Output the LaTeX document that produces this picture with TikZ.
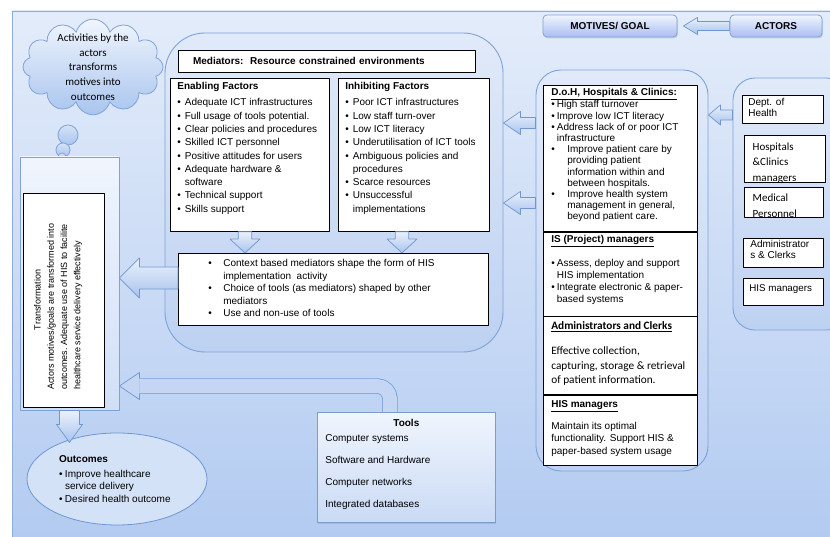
\documentclass[tikz,border=0pt]{standalone}
\usepackage{fontspec}
\setmainfont{Liberation Sans}
\newfontfamily\calib{Carlito}
\usetikzlibrary{positioning, calc, shapes.geometric, shapes.symbols, shadows}

\definecolor{bgtop}{HTML}{E3ECFA}
\definecolor{bgbot}{HTML}{B3CBF1}
\definecolor{pline}{HTML}{7FA3D8}
\definecolor{ptop}{HTML}{E1EAF9}
\definecolor{pbot}{HTML}{BDD1F2}
\definecolor{atop}{HTML}{EAF1FC}
\definecolor{abot}{HTML}{A9C3EC}
\definecolor{aline}{HTML}{6E97D2}
\definecolor{amid}{HTML}{C4D6F3}
\definecolor{ofill}{HTML}{D4E2F7}
\definecolor{ctop}{HTML}{F0F5FD}
\definecolor{cbot}{HTML}{A9C5EE}

\newcommand\topbox[3]{\parbox[t][#1][t]{#2}{\raggedright #3}}
\newcommand\bul[2][7.5pt]{\par\hangindent=#1\hangafter=1\noindent\makebox[#1][l]{\textbullet}{\let\\\newline #2}}
\newcommand\blockarrow[6][]{%
  \coordinate (ba-h) at ($(#3)!#6pt!(#2)$);
  \draw[fatarrow,#1] ($(#2)!#4pt!90:(#3)$) -- ($(ba-h)!#4pt!90:(#3)$)
    -- ($(ba-h)!#5pt!90:(#3)$) -- (#3) -- ($(ba-h)!#5pt!-90:(#3)$)
    -- ($(ba-h)!#4pt!-90:(#3)$) -- ($(#2)!#4pt!-90:(#3)$) -- cycle;}

\tikzset{
  whitebox/.style={draw, fill=white, line width=0.7pt, inner ysep=4pt, inner xsep=7pt},
  cliptext/.style={draw=none, fill=none, minimum width=0pt, minimum height=0pt, inner sep=0pt,
    anchor=north west, align=left, font=\calib\fontsize{11}{15.5}\selectfont},
  roundpanel/.style={draw=pline, line width=0.9pt, top color=ptop, bottom color=pbot, rounded corners=#1},
  capbox/.style={draw=pline, line width=0.8pt, top color=ctop, bottom color=pbot!90!blue,
    rounded corners=4pt, minimum height=22pt, font=\bfseries\fontsize{10}{12}\selectfont,
    drop shadow={opacity=0.25, shadow xshift=1pt, shadow yshift=-1.5pt}},
  toolbox/.style={draw=pline!80!gray, line width=0.7pt, top color=ctop, bottom color=pbot!80!white,
    drop shadow={opacity=0.25, shadow xshift=1pt, shadow yshift=-1.5pt}},
  thought/.style={cloud, cloud puffs=12, cloud ignores aspect, draw=pline, line width=0.8pt,
    top color=ctop, bottom color=cbot, align=center, inner xsep=2pt, inner ysep=-6pt,
    minimum width=140pt, minimum height=82pt},
  bubble/.style={circle, draw=pline, line width=0.8pt, top color=ctop!60!cbot, bottom color=cbot, inner sep=0pt},
  outcome/.style={ellipse, draw=aline, line width=0.8pt, fill=ofill, minimum width=180pt,
    minimum height=92pt, inner sep=0pt, font=\fontsize{10}{12.5}\selectfont},
  fatarrow/.style={draw=aline, line width=0.7pt, top color=atop, bottom color=abot}
}

\begin{document}
\begin{tikzpicture}[x=1pt, y=1pt, line join=round]
\useasboundingbox (0,0) rectangle (830,537);
\draw[draw=pline!90!white, line width=0.9pt, top color=bgtop, bottom color=bgbot] (12,-2) rectangle (833,526);

\node[thought, font=\calib\fontsize{11}{14.7}\selectfont] (cloud) at (93,470)
  {Activities by the\\actors\\transforms\\motives into\\outcomes};
\node[bubble, minimum size=20pt] (b1) at (68,402) {};
\node[bubble, minimum size=14pt] (b2) at (63,387) {};
\node[bubble, minimum size=8pt] (b3) at (62,380) {};

\node[draw=pline, line width=0.9pt, top color=ctop, bottom color=pbot!70!white,
  minimum width=99pt, minimum height=253pt] (transp) at (69.5,253.5) {};
\node[whitebox, rotate=90, inner xsep=17pt, inner ysep=4pt, font=\fontsize{9}{13.3}\selectfont] (trans) at (63.5,237)
  {\topbox{73pt}{180pt}{\vspace*{7pt}{\centering Transformation\par}Actors motives/goals are transformed into\\outcomes. Adequate use of HIS to facilite\\healthcare service delivery effectively}};

\node[outcome] (outc) at (117,58) {\parbox{116pt}{\raggedright\textbf{Outcomes}\par\vspace{2.5pt}%
  \bul[6pt]{Improve healthcare\\service delivery}\bul[6pt]{Desired health outcome}}};

\node[roundpanel=40pt, minimum width=338pt, minimum height=319pt] (medp) at (334,344.5) {};
\node[whitebox, minimum height=22pt, inner ysep=0pt, inner xsep=15pt, text width=267pt, align=left,
  font=\bfseries\fontsize{10}{12}\selectfont] (medt) at (326.5,476) {Mediators:\ \ Resource constrained environments};
\node[whitebox, anchor=north west, font=\fontsize{10}{13.3}\selectfont] (enab) at (170,459)
  {\topbox{145pt}{145pt}{\textbf{Enabling Factors}\par\vspace{3pt}%
  \bul{Adequate ICT infrastructures}\bul{Full usage of tools potential.}\bul{Clear policies and procedures}%
  \bul{Skilled ICT personnel}\bul{Positive attitudes for users}\bul{Adequate hardware \&\\software}%
  \bul{Technical support}\bul{Skills support}}};
\node[whitebox, anchor=north west, font=\fontsize{10}{13.3}\selectfont] (inhib) at (338,459)
  {\topbox{145pt}{137pt}{\textbf{Inhibiting Factors}\par\vspace{3pt}%
  \bul{Poor ICT infrastructures}\bul{Low staff turn-over}\bul{Low ICT literacy}%
  \bul{Underutilisation of ICT tools}\bul{Ambiguous policies and\\procedures}\bul{Scarce resources}%
  \bul{Unsuccessful\\implementations}}};
\node[whitebox, anchor=north west, inner xsep=30pt, inner ysep=3pt, font=\fontsize{10}{12.6}\selectfont] (ctx) at (178,284)
  {\topbox{66pt}{250pt}{\vspace*{3pt}\bul[15pt]{Context based mediators shape the form of HIS\\implementation\ \ activity}%
  \bul[15pt]{Choice of tools (as mediators) shaped by other\\mediators}\bul[15pt]{Use and non-use of tools}}};

\node[roundpanel=25pt, minimum width=172pt, minimum height=401pt] (motp) at (622,266.5) {};
\node[whitebox, anchor=north west, inner xsep=8pt, inner ysep=3pt, font=\fontsize{10}{11.2}\selectfont] (doh) at (543,452)
  {\topbox{140pt}{138pt}{\underline{\textbf{D.o.H, Hospitals \& Clinics:}}%
  \bul[5.5pt]{High staff turnover}\bul[5.5pt]{Improve low ICT literacy}\bul[5.5pt]{Address lack of or poor ICT\\infrastructure}%
  \bul[16pt]{Improve patient care by\\providing patient\\information within and\\between hospitals.}%
  \bul[16pt]{Improve health system\\management in general,\\beyond patient care.}}};
\node[whitebox, below=0pt of doh, inner xsep=8pt, inner ysep=3pt, font=\fontsize{10}{12.3}\selectfont] (isman)
  {\topbox{78pt}{138pt}{\underline{\textbf{IS (Project) managers}}\par\vspace{11.5pt}%
  \bul[5.5pt]{Assess, deploy and support\\HIS implementation}\bul[5.5pt]{Integrate electronic \& paper-\\based systems}}};
\node[whitebox, below=0pt of isman, inner xsep=8pt, inner ysep=3pt, font=\calib\fontsize{11.3}{14.5}\selectfont] (admin)
  {\topbox{72pt}{138pt}{\vspace*{2pt}\underline{\textbf{Administrators and Clerks}}\par\vspace{10.5pt}%
  Effective collection,\\capturing, storage \& retrieval\\of patient information.}};
\node[whitebox, below=0pt of admin, inner xsep=8pt, inner ysep=3pt, font=\fontsize{10}{12.5}\selectfont] (hisman)
  {\topbox{64pt}{138pt}{\vspace*{2pt}\underline{\textbf{HIS managers}}\par\vspace{9.5pt}%
  Maintain its optimal\\functionality. Support HIS \&\\paper-based system usage}};

\node[roundpanel=22pt, minimum width=115pt, minimum height=252pt] (actp) at (790.5,333) {};
\node[whitebox, anchor=north west, inner xsep=6pt, inner ysep=3pt, font=\fontsize{10}{11}\selectfont] (dept) at (742,442)
  {\topbox{22pt}{69pt}{Dept. of\\Health}};
\node[whitebox, anchor=north west, minimum width=81pt, minimum height=47pt, inner sep=0pt,
  path picture={\node[cliptext] at ([xshift=8pt, yshift=-7pt]path picture bounding box.north west)
  {Hospitals\\\&Clinics\\managers};}] (hosp) at (744,402) {};
\node[whitebox, anchor=north west, minimum width=79pt, minimum height=30pt, inner sep=0pt,
  path picture={\node[cliptext] at ([xshift=8pt, yshift=-6.4pt]path picture bounding box.north west)
  {Medical\\Personnel};}] (medic) at (744,350) {};
\node[whitebox, anchor=north west, inner xsep=7pt, inner ysep=1.5pt, font=\fontsize{10}{11}\selectfont] (adm) at (743,299)
  {\topbox{26pt}{66pt}{Administrator\\s \& Clerks}};
\node[whitebox, anchor=north west, inner xsep=6pt, inner ysep=3pt, font=\fontsize{9.8}{11}\selectfont] (hism) at (743,259)
  {\topbox{21pt}{68pt}{\vspace*{3pt}HIS managers}};

\node[capbox, minimum width=134pt] (motive) at (610,511) {MOTIVES/ GOAL};
\node[capbox, minimum width=92pt] (actors) at (776,511) {ACTORS};

\coordinate (c9t) at (transp.east |- 0,151);
\coordinate (c9s) at (390,125);
\draw[line width=15.4pt, aline, rounded corners=13pt] (c9s) |- ($(c9t)+(20,0)$);
\draw[line width=14pt, amid, rounded corners=13pt] (c9s) |- ($(c9t)+(20,0)$);
\fill[amid] ($(c9t)+(20,13.5)$) -- (c9t) -- ($(c9t)+(20,-13.5)$) -- cycle;
\draw[aline, line width=0.7pt] ($(c9t)+(20,7.7)$) -- ($(c9t)+(20,13.5)$) -- (c9t)
  -- ($(c9t)+(20,-13.5)$) -- ($(c9t)+(20,-7.7)$);

\node[toolbox, anchor=north west, inner xsep=8pt, inner ysep=3pt, font=\fontsize{10}{22}\selectfont] (tools) at (317,125)
  {\topbox{104pt}{162pt}{\vspace*{3.5pt}{\centering\textbf{Tools}\par}\vspace{-7pt}%
  Computer systems\\Software and Hardware\\Computer networks\\Integrated databases}};

\coordinate (a1t) at ($(motive.east)+(6,0)$);
\blockarrow{actors.west}{a1t}{4.5}{8.5}{14}
\coordinate (a2s) at (actp.west |- 0,422);
\coordinate (a2t) at (motp.east |- 0,422);
\blockarrow{a2s}{a2t}{5}{10}{12}
\coordinate (a3s) at (motp.west |- 0,414);
\coordinate (a3t) at (medp.east |- 0,414);
\blockarrow{a3s}{a3t}{5.5}{11.5}{17}
\coordinate (a4s) at (motp.west |- 0,334);
\coordinate (a4t) at (medp.east |- 0,334);
\blockarrow{a4s}{a4t}{5.5}{11.5}{17}
\coordinate (a5s) at (enab.south -| 245,0);
\coordinate (a5t) at (ctx.north -| 245,0);
\blockarrow{a5s}{a5t}{6.7}{15}{14}
\coordinate (a6s) at (inhib.south -| 402,0);
\coordinate (a6t) at (ctx.north -| 402,0);
\blockarrow{a6s}{a6t}{6.7}{15}{14}
\coordinate (a7s) at (ctx.west |- 0,259);
\coordinate (a7t) at (transp.east |- 0,259);
\blockarrow{a7s}{a7t}{11}{20}{20}
\coordinate (a8t) at ($(transp.south)+(0,-32)$);
\blockarrow{transp.south}{a8t}{10}{13}{18}
\end{tikzpicture}
\end{document}
